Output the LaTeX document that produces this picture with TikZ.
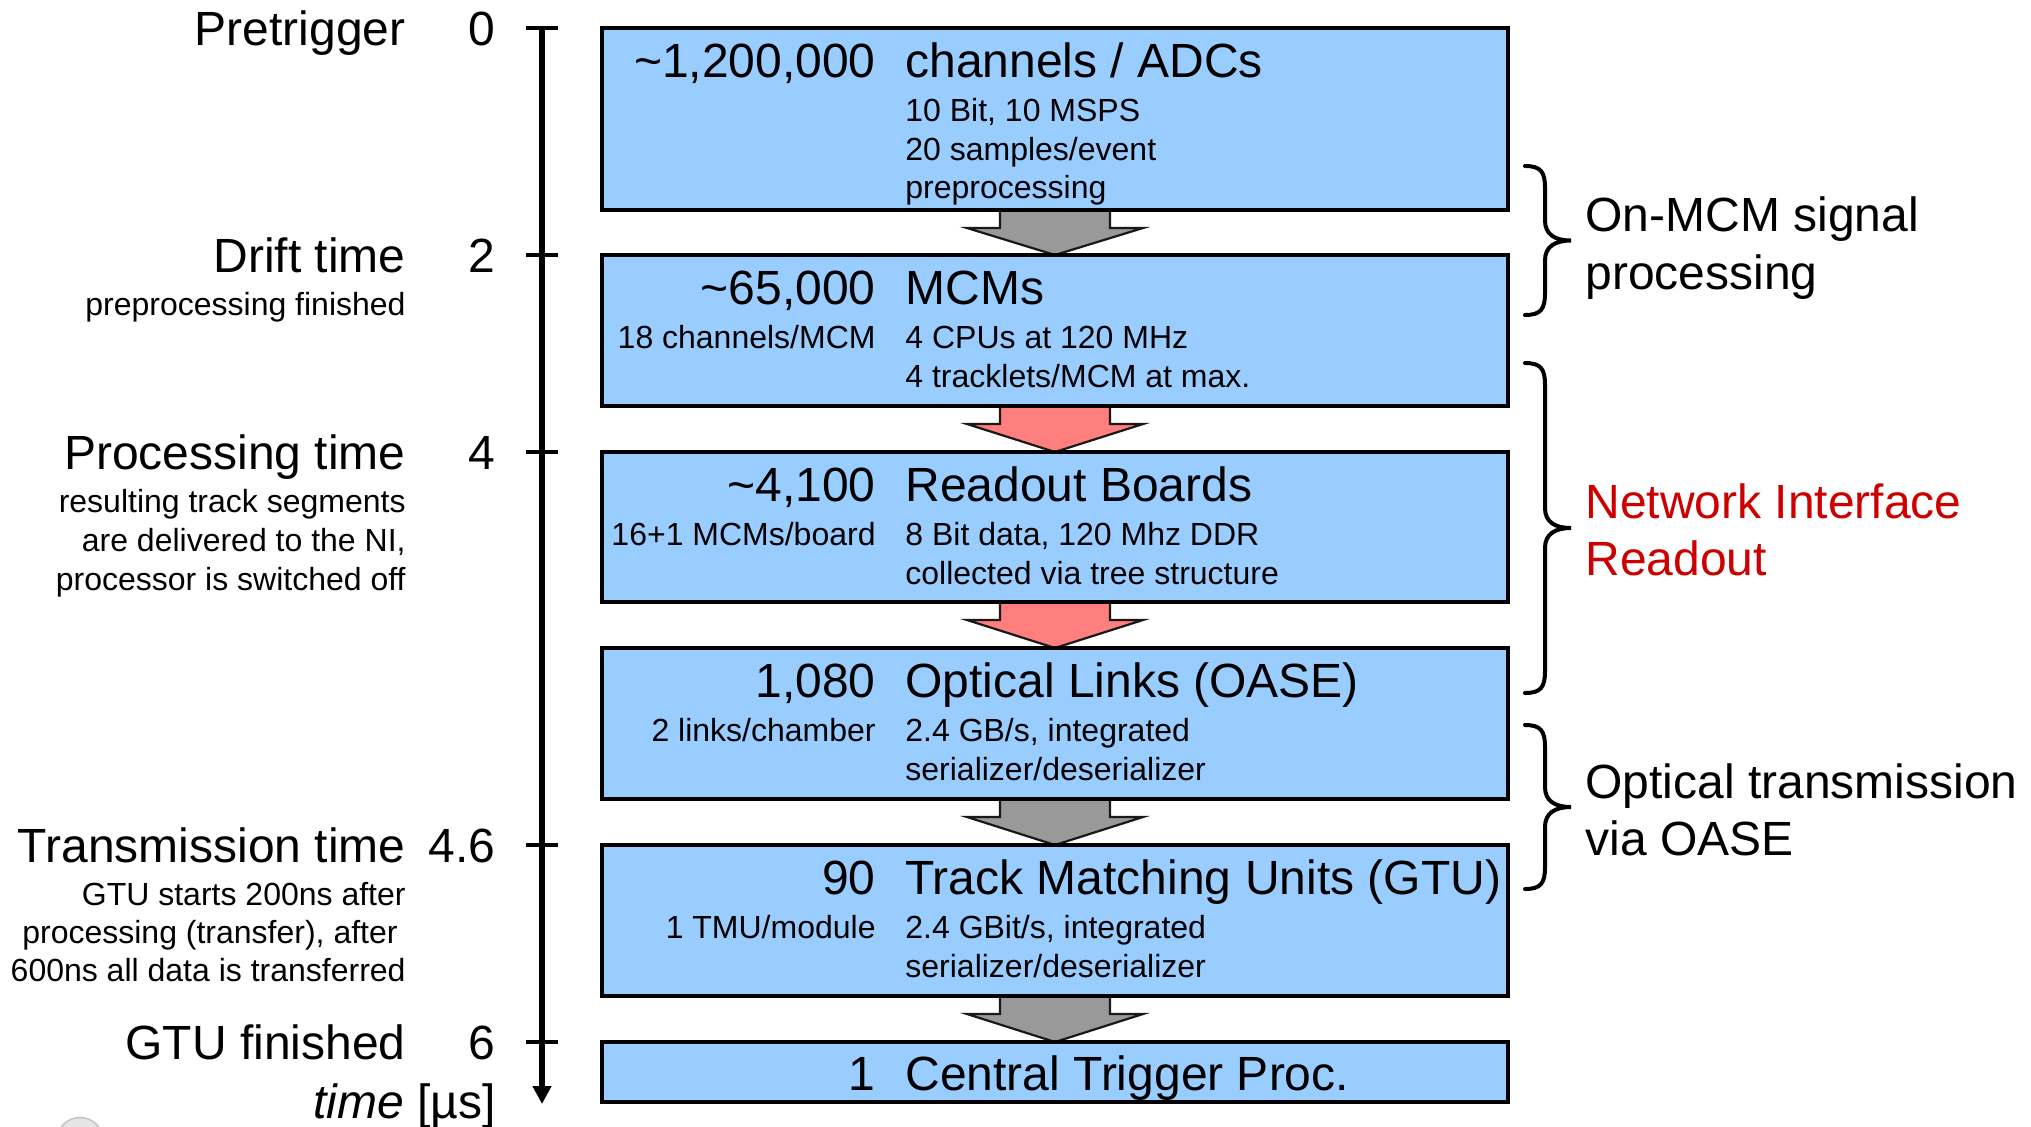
\documentclass[tikz,border=0pt]{standalone}
\usepackage{fontspec}
\setmainfont{Liberation Sans}
\usetikzlibrary{calc,arrows.meta}
\pgfdeclarelayer{background}
\pgfsetlayers{background,main}

\definecolor{boxblue}{HTML}{99CCFF}
\definecolor{flowgray}{HTML}{999999}
\definecolor{flowred}{HTML}{FF7F7F}
\definecolor{nired}{HTML}{CC0000}

\newcommand\bigfont{\fontsize{24}{28}\selectfont}
\newcommand\smallfont{\fontsize{16}{19}\selectfont}

% block arrow from the bottom of one box to the top of the next
\newcommand\flowarrow[3]{%
  \begin{pgfonlayer}{background}
    \filldraw[arrowshape, fill=#3]
      ($(#1.south)+(-55,-6)$) -- ($(#1.south)+(-55,18)$) -- ($(#1.south)+(-88,18)$)
      -- (#2.north) -- ($(#1.south)+(88,18)$) -- ($(#1.south)+(55,18)$)
      -- ($(#1.south)+(55,-6)$) -- cycle;
  \end{pgfonlayer}}

% curly brace on the right-hand side, given top and bottom (px)
\newcommand\sidebrace[2]{%
  \pgfmathsetmacro\braceMid{(#1+#2)/2}
  \draw[bracestyle] (1525,#1) .. controls (1541,#1) and (1545,{#1+6}) .. (1545,{#1+22})
    -- (1545,{\braceMid-20}) .. controls (1545,{\braceMid-6}) and (1555,\braceMid) .. (1571,\braceMid)
    .. controls (1555,\braceMid) and (1545,{\braceMid+6}) .. (1545,{\braceMid+20})
    -- (1545,{#2-22}) .. controls (1545,{#2-6}) and (1541,#2) .. (1525,#2);}

\begin{document}
\begin{tikzpicture}[x=0.5pt,y=-0.5pt,
  box/.style={draw=black, line width=2pt, fill=boxblue, anchor=north west,
    minimum width=453pt, inner sep=0pt, outer sep=0pt},
  num/.style={anchor=base east, inner sep=0pt, font=\bigfont},
  ttl/.style={anchor=base west, inner sep=0pt, font=\bigfont},
  subr/.style={anchor=base east, inner sep=0pt, font=\smallfont},
  subl/.style={anchor=base west, inner sep=0pt, font=\smallfont},
  arrowshape/.style={draw=black!90, line width=1.1pt, line join=miter},
  bracestyle/.style={draw=black, line width=2pt, line cap=round},
  axisline/.style={line width=3pt, -{Triangle[width=9pt,length=9pt]}},
  tickline/.style={line width=1.6pt},
]
\useasboundingbox (0,0) rectangle (2031,1126);

% ---- time axis ----
\coordinate (axtop) at (542,28);
\coordinate (axend) at (542,1104);
\draw[axisline] (axtop) -- (axend);
\foreach \ty in {28,255,452,845,1042}
  \draw[tickline] (526,\ty) -- (558,\ty);

\node[num] (t0) at (496,45) {0};
\node[num] (t2) at (496,272) {2};
\node[num] (t4) at (496,469) {4};
\node[num] (t46) at (496,862) {4.6};
\node[num] (t6) at (496,1059) {6};
\node[num] (tunit) at (496,1118) {\textit{time} [µs]};

% ---- phase labels ----
\node[num] (lpre) at (406,45) {Pretrigger};
\node[num] (ldrift) at (406,272) {Drift time};
\node[subr] (ldrifta) at (406,315) {preprocessing finished};
\node[num] (lproc) at (406,469) {Processing time};
\node[subr] (lproca) at (406,512) {resulting track segments};
\node[subr] (lprocb) at (406,551) {are delivered to the NI,};
\node[subr] (lprocc) at (406,590) {processor is switched off};
\node[num] (ltrans) at (406,862) {Transmission time};
\node[subr] (ltransa) at (406,905) {GTU starts 200ns after};
\node[subr] (ltransb) at (398,943) {processing (transfer), after};
\node[subr] (ltransc) at (406,981) {600ns all data is transferred};
\node[num] (lgtu) at (406,1059) {GTU finished};

% ---- processing chain ----
\node[box, minimum height=91pt] (b1) at (602,28) {};
\node[box, minimum height=75.5pt] (b2) at (602,255) {};
\node[box, minimum height=75pt] (b3) at (602,452) {};
\node[box, minimum height=75.5pt] (b4) at (602,648) {};
\node[box, minimum height=75.5pt] (b5) at (602,845) {};
\node[box, minimum height=30pt] (b6) at (602,1042) {};

\flowarrow{b1}{b2}{flowgray}
\flowarrow{b2}{b3}{flowred}
\flowarrow{b3}{b4}{flowred}
\flowarrow{b4}{b5}{flowgray}
\flowarrow{b5}{b6}{flowgray}

\node[num] (b1n) at (876,77) {\textasciitilde1,200,000};
\node[ttl] (b1t) at (905,77) {channels / ADCs};
\node[subl] (b1a) at (905,121) {10 Bit, 10 MSPS};
\node[subl] (b1b) at (905,160) {20 samples/event};
\node[subl] (b1c) at (905,198) {preprocessing};

\node[num] (b2n) at (876,304) {\textasciitilde65,000};
\node[ttl] (b2t) at (905,304) {MCMs};
\node[subr] (b2l) at (876,348) {18 channels/MCM};
\node[subl] (b2a) at (905,348) {4 CPUs at 120 MHz};
\node[subl] (b2b) at (905,387) {4 tracklets/MCM at max.};

\node[num] (b3n) at (876,501) {\textasciitilde4,100};
\node[ttl] (b3t) at (905,501) {Readout Boards};
\node[subr] (b3l) at (876,545) {16+1 MCMs/board};
\node[subl] (b3a) at (905,545) {8 Bit data, 120 Mhz DDR};
\node[subl] (b3b) at (905,584) {collected via tree structure};

\node[num] (b4n) at (876,697) {1,080};
\node[ttl] (b4t) at (905,697) {Optical Links (OASE)};
\node[subr] (b4l) at (876,741) {2 links/chamber};
\node[subl] (b4a) at (905,741) {2.4 GB/s, integrated};
\node[subl] (b4b) at (905,780) {serializer/deserializer};

\node[num] (b5n) at (876,894) {90};
\node[ttl] (b5t) at (905,894) {Track Matching Units (GTU)};
\node[subr] (b5l) at (876,938) {1 TMU/module};
\node[subl] (b5a) at (905,938) {2.4 GBit/s, integrated};
\node[subl] (b5b) at (905,977) {serializer/deserializer};

\node[num] (b6n) at (876,1090) {1};
\node[ttl] (b6t) at (905,1090) {Central Trigger Proc.};

% ---- grouping braces ----
\sidebrace{166}{315}
\sidebrace{363}{693}
\sidebrace{725}{889}

\node[ttl] (g1a) at (1585,231) {On-MCM signal};
\node[ttl] (g1b) at (1585,289) {processing};
\node[ttl, text=nired] (g2a) at (1585,518) {Network Interface};
\node[ttl, text=nired] (g2b) at (1585,575) {Readout};
\node[ttl] (g3a) at (1585,798) {Optical transmission};
\node[ttl] (g3b) at (1585,855) {via OASE};

% ---- partly hidden emblem at the lower edge ----
\filldraw[fill=gray!20, draw=gray!45, line width=0.8pt] (80,1141) circle (23.5);
\end{tikzpicture}
\end{document}
